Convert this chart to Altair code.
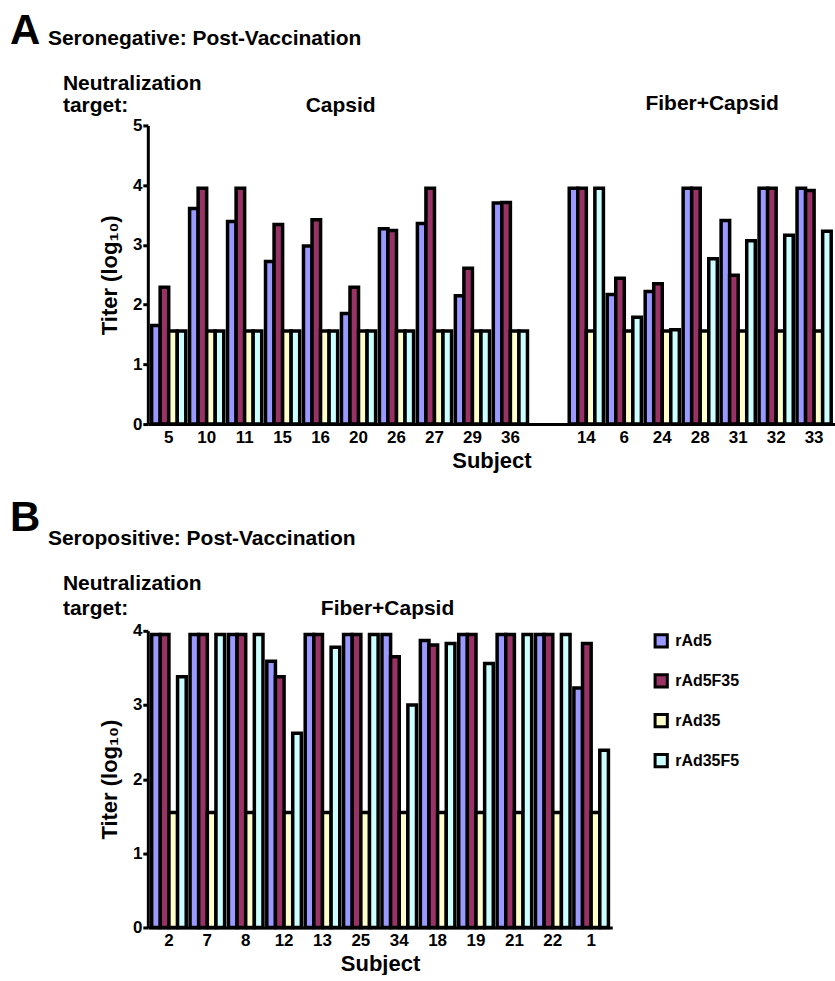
import altair as alt
import pandas as pd

FONT = "Liberation Sans, Arial, Helvetica, sans-serif"

series = ["rAd5", "rAd5F35", "rAd35", "rAd35F5"]
colors = ["#9999FF", "#993366", "#FFFFCC", "#CCFFFF"]

# Panel A: seronegative
a_subjects = ["5", "10", "11", "15", "16", "20", "26", "27", "29", "36",
              "14", "6", "24", "28", "31", "32", "33"]
a_gap_after = "36"
a_rAd5 = [1.65, 3.61, 3.39, 2.72, 2.98, 1.85, 3.27, 3.36, 2.15, 3.70,
          3.95, 2.17, 2.22, 3.95, 3.41, 3.95, 3.95]
a_rAd5F35 = [2.29, 3.95, 3.95, 3.34, 3.42, 2.29, 3.24, 3.95, 2.61, 3.71,
             3.95, 2.44, 2.35, 3.95, 2.49, 3.95, 3.91]
a_rAd35 = [1.56, 1.56, 1.56, 1.56, 1.56, 1.56, 1.56, 1.56, 1.56, 1.56,
           1.56, 1.56, 1.56, 1.56, 1.56, 1.56, 1.56]
a_rAd35F5 = [1.56, 1.56, 1.56, 1.56, 1.56, 1.56, 1.56, 1.56, 1.56, 1.56,
             3.95, 1.79, 1.58, 2.77, 3.07, 3.16, 3.23]

# Panel B: seropositive
b_subjects = ["2", "7", "8", "12", "13", "25", "34", "18", "19", "21", "22", "1"]
b_rAd5 = [3.95, 3.95, 3.95, 3.59, 3.95, 3.95, 3.95, 3.87, 3.95, 3.95, 3.95, 3.23]
b_rAd5F35 = [3.95, 3.95, 3.95, 3.38, 3.95, 3.95, 3.65, 3.81, 3.95, 3.95, 3.95, 3.83]
b_rAd35 = [1.55, 1.55, 1.55, 1.55, 1.55, 1.55, 1.55, 1.55, 1.55, 1.55, 1.55, 1.55]
b_rAd35F5 = [3.38, 3.95, 3.95, 2.62, 3.78, 3.95, 3.00, 3.83, 3.56, 3.95, 3.95, 2.39]


def long_df(subjects, cols):
    rows = []
    for s_name, vals in zip(series, cols):
        for subj, v in zip(subjects, vals):
            rows.append({"subject": subj, "series": s_name, "titer": v})
    return pd.DataFrame(rows)


dfA = long_df(a_subjects, [a_rAd5, a_rAd5F35, a_rAd35, a_rAd35F5])
dfB = long_df(b_subjects, [b_rAd5, b_rAd5F35, b_rAd35, b_rAd35F5])

i = a_subjects.index(a_gap_after) + 1
domainA = a_subjects[:i] + [" "] + a_subjects[i:]
domainB = b_subjects


def text_layer(txt, x, y, size=21, align="left"):
    return alt.Chart(alt.Data(values=[{"t": txt}])).mark_text(
        font=FONT, fontWeight="bold", fontSize=size, align=align,
        baseline="alphabetic", color="black"
    ).encode(x=alt.value(x), y=alt.value(y), text="t:N")


def bars(df, domain, ymax, width, height, legend):
    return alt.Chart(df).mark_bar(
        stroke="black", strokeWidth=3.5, strokeJoin="miter"
    ).encode(
        x=alt.X("subject:N",
                scale=alt.Scale(domain=domain, paddingInner=0.1, paddingOuter=0.1),
                axis=alt.Axis(title="Subject", ticks=False, labelAngle=0,
                              labelPadding=5, titlePadding=5)),
        xOffset=alt.XOffset("series:N",
                            scale=alt.Scale(domain=series, paddingInner=0, paddingOuter=0)),
        y=alt.Y("titer:Q", scale=alt.Scale(domain=[0, ymax], nice=False),
                axis=alt.Axis(title="Titer (log₁₀)", values=list(range(ymax + 1)),
                              tickSize=5, labelPadding=1, titlePadding=11)),
        color=alt.Color("series:N", scale=alt.Scale(domain=series, range=colors),
                        legend=legend),
    ).properties(width=width, height=height)


legendB = alt.Legend(
    title=None, orient="none", legendX=506, legendY=2,
    symbolType="square", symbolSize=150, symbolStrokeColor="black",
    symbolStrokeWidth=3, symbolFillColor="white",
    labelFont=FONT, labelFontSize=16, labelFontWeight="bold",
    labelColor="black", rowPadding=14, labelOffset=6,
)

panelA = alt.layer(
    bars(dfA, domainA, 5, 688, 299, None),
    text_layer("A", -138, -82, size=42),
    text_layer("Seronegative: Post-Vaccination", -100, -81),
    text_layer("Neutralization", -85, -35),
    text_layer("target:", -85, -13),
    text_layer("Capsid", 193, -13, align="center"),
    text_layer("Fiber+Capsid", 565, -15, align="center"),
)

panelB = alt.layer(
    bars(dfB, domainB, 4, 465, 297, legendB),
    text_layer("B", -138, -100, size=42),
    text_layer("Seropositive: Post-Vaccination", -100, -86),
    text_layer("Neutralization", -85, -41),
    text_layer("target:", -85, -16),
    text_layer("Fiber+Capsid", 240, -16, align="center"),
)

chart = alt.vconcat(panelA, panelB, spacing=26).resolve_scale(
    x="independent", y="independent", xOffset="independent", color="shared"
).resolve_legend(color="independent").properties(
    padding={"left": 10, "top": 9, "right": 0, "bottom": 0}
).configure_view(stroke=None).configure_axis(
    grid=False, domainColor="black", domainWidth=3, tickColor="black",
    tickWidth=3, labelFont=FONT, labelFontSize=17, labelFontWeight="bold",
    labelColor="black", titleFont=FONT, titleFontSize=22, titleFontWeight="bold",
    titleColor="black"
)

chart.save("out.html", embed_options={"renderer": "svg", "actions": False})
